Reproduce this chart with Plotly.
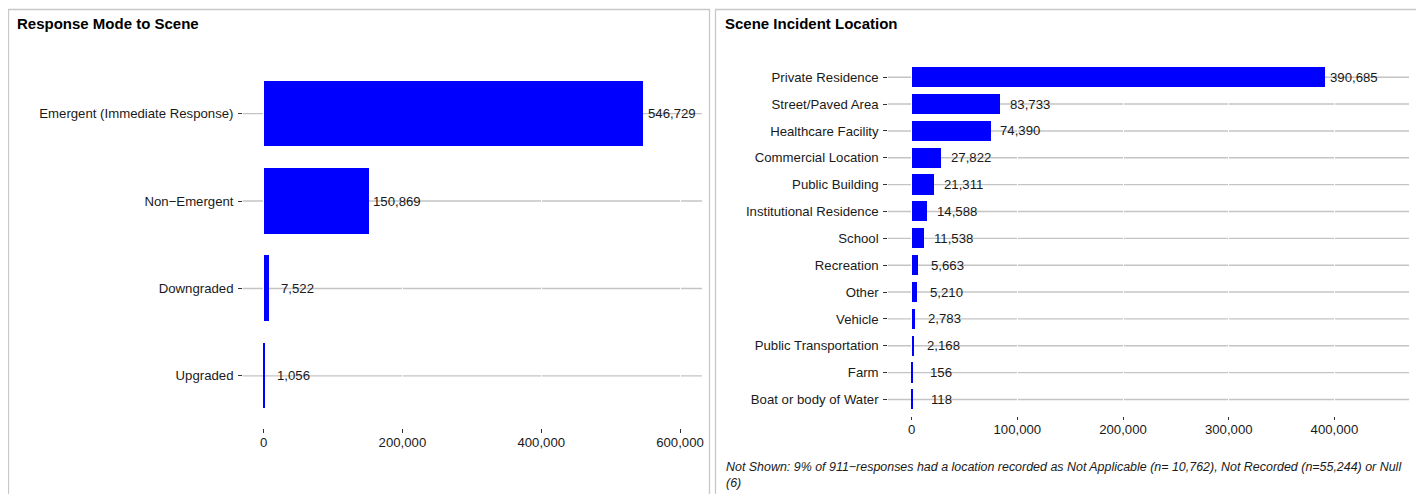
import plotly.graph_objects as go

# page body has an 8px margin; figure is positioned at (8, 8) in the window
OFF = 8
W, H = 1416, 486

# ---- data ----
mode_categories = ["Emergent (Immediate Response)", "Non\u2212Emergent", "Downgraded", "Upgraded"]
mode_values = [546729, 150869, 7522, 1056]

loc_categories = ["Private Residence", "Street/Paved Area", "Healthcare Facility",
                  "Commercial Location", "Public Building", "Institutional Residence",
                  "School", "Recreation", "Other", "Vehicle", "Public Transportation",
                  "Farm", "Boat or body of Water"]
loc_values = [390685, 83733, 74390, 27822, 21311, 14588, 11538, 5663, 5210, 2783, 2168, 156, 118]

mode_ticks = [0, 200000, 400000, 600000]
loc_ticks = [0, 100000, 200000, 300000, 400000]

title_left = "Response Mode to Scene"
title_right = "Scene Incident Location"
note_text = ("Not Shown: 9% of 911\u2212responses had a location recorded as Not Applicable "
             "(n= 10,762), Not Recorded (n=55,244) or Null<br>(6)")

FONT = "Liberation Sans, Arial, sans-serif"
BLUE = "#0000FF"
GRID = "#C4C4C4"
TXT = "#1a1a1a"

def px_x(p):  # window pixel -> paper fraction
    return (p - OFF) / W

def px_y(p):  # window pixel from top -> paper fraction from bottom
    return 1 - (p - OFF) / H

fig = go.Figure()

fig.add_trace(go.Bar(x=mode_values, y=mode_categories, orientation="h",
                     marker=dict(color=BLUE, line=dict(width=0)), width=0.75,
                     xaxis="x", yaxis="y", showlegend=False, hoverinfo="x+y"))
fig.add_trace(go.Bar(x=loc_values, y=loc_categories, orientation="h",
                     marker=dict(color=BLUE, line=dict(width=0)), width=0.75,
                     xaxis="x2", yaxis="y2", showlegend=False, hoverinfo="x+y"))

def fmt(v):
    return f"{v:,}"

annotations = []
for c, v in zip(mode_categories, mode_values):
    annotations.append(dict(x=v, y=c, xref="x", yref="y", text=fmt(v), showarrow=False,
                            xanchor="center", yanchor="middle", xshift=29,
                            font=dict(family=FONT, size=13.2, color=TXT)))
for c, v in zip(loc_categories, loc_values):
    annotations.append(dict(x=v, y=c, xref="x2", yref="y2", text=fmt(v), showarrow=False,
                            xanchor="center", yanchor="middle", xshift=29.5,
                            font=dict(family=FONT, size=13.2, color=TXT)))

# titles
annotations.append(dict(x=px_x(15), y=px_y(23), xref="paper", yref="paper", text="<b>" + title_left + "</b>",
                        showarrow=False, xanchor="left", yanchor="middle",
                        font=dict(family=FONT, size=15, color="black")))
annotations.append(dict(x=px_x(724.5), y=px_y(23), xref="paper", yref="paper", text="<b>" + title_right + "</b>",
                        showarrow=False, xanchor="left", yanchor="middle",
                        font=dict(family=FONT, size=15, color="black")))
# note
annotations.append(dict(x=px_x(725), y=px_y(458), xref="paper", yref="paper", text="<i>" + note_text + "</i>",
                        showarrow=False, xanchor="left", yanchor="top", align="left",
                        font=dict(family=FONT, size=12.45, color=TXT)))

shapes = []
# panel borders
shapes.append(dict(type="rect", xref="paper", yref="paper", x0=px_x(8.5), x1=px_x(710.5),
                   y0=px_y(530), y1=px_y(9.5), line=dict(color="#C8C8C8", width=1.3), layer="below"))
shapes.append(dict(type="rect", xref="paper", yref="paper", x0=px_x(716.5), x1=px_x(1419.5),
                   y0=px_y(530), y1=px_y(9.5), line=dict(color="#C8C8C8", width=1.3), layer="below"))
# horizontal grid lines (under white vertical grid)
for c in mode_categories:
    shapes.append(dict(type="line", xref="x domain", yref="y", x0=0, x1=1, y0=c, y1=c,
                       line=dict(color=GRID, width=1.4), layer="below"))
for c in loc_categories:
    shapes.append(dict(type="line", xref="x2 domain", yref="y2", x0=0, x1=1, y0=c, y1=c,
                       line=dict(color=GRID, width=1.4), layer="below"))

axis_common = dict(showline=False, zeroline=False, ticks="outside", ticklen=3.5,
                   tickcolor="#333333", tickwidth=1,
                   tickfont=dict(family=FONT, size=13.2, color=TXT))

fig.update_layout(
    width=W, height=H,
    margin=dict(l=0, r=0, t=0, b=0),
    paper_bgcolor="white", plot_bgcolor="rgba(0,0,0,0)",
    bargap=0,
    annotations=annotations,
    shapes=shapes,
    xaxis=dict(domain=[px_x(243), px_x(703)], range=[-30200, 631700], anchor="y",
               tickvals=mode_ticks, ticktext=[fmt(t) for t in mode_ticks],
               showgrid=True, gridcolor="white", gridwidth=1, ticklabelstandoff=-2, **axis_common),
    yaxis=dict(domain=[px_y(428.3), px_y(61.2)], range=[3.6, -0.6], anchor="x",
               type="category", categoryorder="array", categoryarray=mode_categories,
               showgrid=False, ticklabelstandoff=2, **axis_common),
    xaxis2=dict(domain=[px_x(889), px_x(1411)], range=[-22600, 470600], anchor="y2",
                tickvals=loc_ticks, ticktext=[fmt(t) for t in loc_ticks],
                showgrid=True, gridcolor="white", gridwidth=1, ticklabelstandoff=-2, **axis_common),
    yaxis2=dict(domain=[px_y(415.6), px_y(61.1)], range=[12.6, -0.6], anchor="x2",
                type="category", categoryorder="array", categoryarray=loc_categories,
                showgrid=False, ticklabelstandoff=2, **axis_common),
)

fig.write_html("out.html")
